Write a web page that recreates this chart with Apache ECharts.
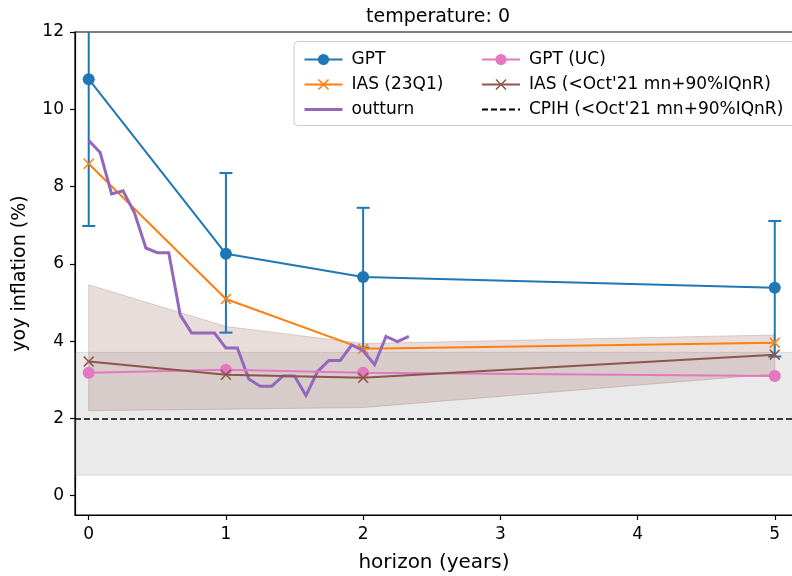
<!DOCTYPE html>
<html>
<head>
<meta charset="utf-8">
<script src="https://cdn.jsdelivr.net/npm/echarts@6/dist/echarts.min.js"></script>
<style>
  html, body { margin: 0; padding: 0; background: #ffffff; }
  #chart { width: 792px; height: 576px; }
</style>
</head>
<body>
<div id="chart"></div>
<script>
// Forecast horizons (years)
const horizons = [0, 1, 2, 5];

// GPT point forecasts with their error ranges
const gpt = [10.78, 6.26, 5.66, 5.38];
const gptLow = [6.98, 4.22, 3.83, 3.60];
const gptHigh = [14.6, 8.35, 7.45, 7.11];

// Inflation Attitudes Survey, 2023 Q1
const ias23q1 = [8.59, 5.09, 3.80, 3.96];

// GPT (unconditional)
const gptUC = [3.18, 3.26, 3.18, 3.10];

// IAS before Oct'21: mean and 90% inter-quantile range
const iasPre = [3.47, 3.13, 3.05, 3.65];
const iasBandLow = [2.20, 2.24, 2.28, 3.15];
const iasBandHigh = [5.46, 4.38, 3.94, 4.16];

// CPIH before Oct'21: mean and 90% inter-quantile range
const cpihMean = 2.0;
const cpihBandLow = 0.53;
const cpihBandHigh = 3.71;

// Monthly outturn, month 0 = start of the forecast
const outturnMonth = [0, 1, 2, 3, 4, 5, 6, 7, 8, 9, 10, 11, 12, 13, 14,
                      15, 16, 17, 18, 19, 20, 21, 22, 23, 24, 25, 26, 27, 28];
const outturn = [9.19, 8.88, 7.81, 7.89, 7.32, 6.41, 6.29, 6.29, 4.68, 4.21,
                 4.21, 4.21, 3.82, 3.82, 3.02, 2.83, 2.83, 3.10, 3.10, 2.59,
                 3.21, 3.50, 3.50, 3.90, 3.75, 3.39, 4.12, 3.99, 4.12];

// Axis ticks
const xTicks = [0, 1, 2, 3, 4, 5];
const yTicks = [0, 2, 4, 6, 8, 10, 12];

const FONT = 'DejaVu Sans';
const C = {
  blue: '#1f77b4', orange: '#ff7f0e', purple: '#9467bd',
  pink: '#e377c2', brown: '#8c564b'
};

// filled "x" marker
const CROSS = 'path://M0,1.2L1.2,0L6,4.8L10.8,0L12,1.2L7.2,6L12,10.8L10.8,12L6,7.2L1.2,12L0,10.8L4.8,6Z';

const pairs = (xs, ys) => xs.map((x, i) => [x, ys[i]]);

const chart = echarts.init(document.getElementById('chart'), null, { renderer: 'canvas' });

const legendText = { fontFamily: FONT, fontSize: 17, color: '#000', padding: [0, 0, 0, 4] };

const option = {
  animation: false,
  backgroundColor: '#ffffff',
  textStyle: { fontFamily: FONT },
  title: {
    text: 'temperature: 0',
    left: 433, top: 3, textAlign: 'center',
    textStyle: { fontFamily: FONT, fontSize: 19, fontWeight: 'normal', color: '#000' }
  },
  grid: {
    left: 75, right: -1, top: 32, bottom: 61,
    outerBoundsMode: 'none', containLabel: false,
    show: true, borderColor: '#000', borderWidth: 1.2, backgroundColor: 'transparent'
  },
  xAxis: {
    type: 'value', min: -0.1, max: 5.133,
    name: 'horizon (years)', nameLocation: 'middle', nameGap: 38,
    nameTextStyle: { fontFamily: FONT, fontSize: 20, color: '#000' },
    splitLine: { show: false },
    axisLine: { show: true, onZero: false, lineStyle: { color: '#000', width: 1.2 } },
    axisTick: { show: true, customValues: xTicks, length: 5, lineStyle: { color: '#000', width: 1.2 } },
    axisLabel: { customValues: xTicks, fontFamily: FONT, fontSize: 17, color: '#000', margin: 11 }
  },
  yAxis: {
    type: 'value', min: -0.5, max: 12,
    name: 'yoy inflation (%)', nameLocation: 'middle', nameGap: 45,
    nameTextStyle: { fontFamily: FONT, fontSize: 19, color: '#000' },
    splitLine: { show: false },
    axisLine: { show: true, onZero: false, lineStyle: { color: '#000', width: 1.2 } },
    axisTick: { show: true, customValues: yTicks, length: 5, lineStyle: { color: '#000', width: 1.2 } },
    axisLabel: { customValues: yTicks, fontFamily: FONT, fontSize: 17, color: '#000', margin: 11 }
  },
  legend: [
    {
      data: ['GPT', 'IAS (23Q1)',
             { name: 'outturn', itemStyle: { opacity: 0 }, lineStyle: { width: 3 } }],
      orient: 'vertical', left: 298, top: 46, z: 20,
      itemWidth: 38, itemHeight: 14, itemGap: 8,
      textStyle: legendText
    },
    {
      data: ['GPT (UC)', "IAS (<Oct'21 mn+90%IQnR)",
             { name: "CPIH (<Oct'21 mn+90%IQnR)", itemStyle: { opacity: 0 } }],
      orient: 'vertical', left: 476, top: 46, z: 20,
      itemWidth: 38, itemHeight: 14, itemGap: 8,
      textStyle: legendText
    }
  ],
  graphic: {
    elements: [{
      type: 'rect', z: 15, silent: true,
      shape: { x: 294, y: 41.5, width: 520, height: 84, r: 4 },
      style: { fill: 'rgba(255,255,255,0.8)', stroke: '#cccccc', lineWidth: 1 }
    }]
  },
  series: [
    {
      // CPIH band and mean line
      name: "CPIH (<Oct'21 mn+90%IQnR)",
      type: 'line', data: [], symbol: 'none', z: 1,
      lineStyle: { color: '#000', width: 1.5, type: [6, 3] },
      itemStyle: { color: '#000' },
      markArea: {
        silent: true,
        itemStyle: { color: 'rgba(127,127,127,0.16)', borderColor: 'rgba(127,127,127,0.2)', borderWidth: 1 },
        data: [[{ yAxis: cpihBandLow }, { yAxis: cpihBandHigh }]]
      },
      markLine: {
        silent: true, symbol: 'none', label: { show: false },
        lineStyle: { color: '#000', width: 1.5, type: [6, 3] },
        data: [{ yAxis: cpihMean }]
      }
    },
    {
      // IAS pre-Oct'21 inter-quantile band
      name: 'IAS band', type: 'custom', z: 2, silent: true, clip: true,
      data: [0],
      renderItem: (params, api) => {
        const upper = horizons.map((h, i) => api.coord([h, iasBandHigh[i]]));
        const lower = horizons.map((h, i) => api.coord([h, iasBandLow[i]])).reverse();
        return {
          type: 'polygon',
          shape: { points: upper.concat(lower) },
          style: { fill: 'rgba(140,86,75,0.2)', stroke: 'rgba(140,86,75,0.25)', lineWidth: 1 }
        };
      }
    },
    {
      name: 'GPT', type: 'line', z: 5,
      data: pairs(horizons, gpt),
      symbol: 'circle', symbolSize: 12,
      lineStyle: { color: C.blue, width: 2 }, itemStyle: { color: C.blue }
    },
    {
      name: 'GPT range', type: 'custom', z: 5, clip: true,
      data: horizons.map((h, i) => [h, gptLow[i], gptHigh[i]]),
      renderItem: (params, api) => {
        const lo = api.coord([api.value(0), api.value(1)]);
        const hi = api.coord([api.value(0), api.value(2)]);
        const cap = 6.5;
        const style = { stroke: C.blue, lineWidth: 2 };
        return {
          type: 'group',
          children: [
            { type: 'line', shape: { x1: lo[0], y1: lo[1], x2: hi[0], y2: hi[1] }, style },
            { type: 'line', shape: { x1: lo[0] - cap, y1: lo[1], x2: lo[0] + cap, y2: lo[1] }, style },
            { type: 'line', shape: { x1: hi[0] - cap, y1: hi[1], x2: hi[0] + cap, y2: hi[1] }, style }
          ]
        };
      }
    },
    {
      name: 'IAS (23Q1)', type: 'line', z: 6,
      data: pairs(horizons, ias23q1),
      symbol: CROSS, symbolSize: 11,
      lineStyle: { color: C.orange, width: 2 }, itemStyle: { color: C.orange }
    },
    {
      name: 'outturn', type: 'line', z: 7,
      data: outturnMonth.map((m, i) => [m / 12, outturn[i]]),
      symbol: 'none', showSymbol: false,
      lineStyle: { color: C.purple, width: 3, join: 'miter' }, itemStyle: { color: C.purple }
    },
    {
      name: 'GPT (UC)', type: 'line', z: 8,
      data: pairs(horizons, gptUC),
      symbol: 'circle', symbolSize: 12,
      lineStyle: { color: C.pink, width: 2 }, itemStyle: { color: C.pink }
    },
    {
      name: "IAS (<Oct'21 mn+90%IQnR)", type: 'line', z: 9,
      data: pairs(horizons, iasPre),
      symbol: CROSS, symbolSize: 11,
      lineStyle: { color: C.brown, width: 2 }, itemStyle: { color: C.brown }
    }
  ]
};

chart.setOption(option);
</script>
</body>
</html>
